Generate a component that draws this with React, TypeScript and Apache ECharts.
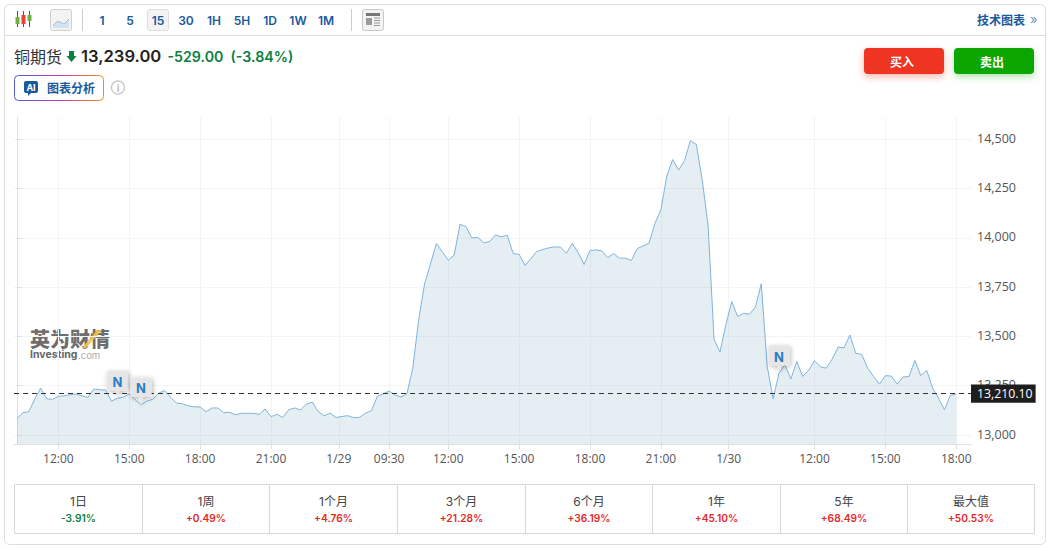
import React, { useEffect, useRef } from "react";
import * as echarts from "echarts";

const prices = [
  13084, 13113, 13118, 13182, 13238, 13184, 13181, 13196, 13199, 13204, 13208, 13199, 13191, 13233, 13230, 13228,
  13172, 13187, 13192, 13209, 13179, 13154, 13172, 13182, 13213, 13225, 13192, 13162, 13159, 13147, 13143, 13142,
  13118, 13137, 13137, 13113, 13115, 13103, 13110, 13110, 13110, 13105, 13132, 13093, 13105, 13089, 13128, 13137,
  13127, 13157, 13167, 13118, 13098, 13111, 13089, 13094, 13098,
  13088, 13090, 13111, 13123, 13196, 13209, 13223, 13203, 13193, 13208, 13339, 13584, 13767, 13868, 13971, 13929,
  13887, 13912, 14069, 14057, 14000, 14003, 13975, 13981, 14015, 14005, 14013, 13920, 13917, 13860, 13895, 13931,
  13941, 13949, 13954, 13953, 13922, 13971, 13926, 13865, 13936, 13939, 13934, 13900, 13920, 13897, 13897, 13885,
  13946, 13959, 13973, 14074, 14142, 14314, 14397, 14344, 14392, 14493, 14474, 14294, 14061,
  13486, 13421, 13559, 13677, 13601, 13617, 13613, 13649, 13767, 13348, 13184, 13314, 13356, 13284, 13373, 13297,
  13328, 13377, 13346, 13339, 13385, 13446, 13442, 13507, 13414, 13409, 13339, 13297, 13258, 13301, 13299, 13258,
  13294, 13297, 13378, 13301, 13328, 13238, 13187, 13128, 13201, 13208,
];
const xTickIndex = [7, 19, 31, 43, 54.47, 63, 73, 85, 97, 109, 120.47, 135, 147, 159];
const xTickLabels = ["12:00", "15:00", "18:00", "21:00", "1/29", "09:30", "12:00", "15:00", "18:00", "21:00", "1/30", "12:00", "15:00", "18:00"];
const yTicks = [13000, 13250, 13500, 13750, 14000, 14250, 14500];
const newsIndex = [17, 21, 129];
const lastPrice = 13210.1;
const lastPriceLabel = "13,210.10";
const intervals = ["1", "5", "15", "30", "1H", "5H", "1D", "1W", "1M"];
const periodNames = ["1日", "1周", "1个月", "3个月", "6个月", "1年", "5年", "最大值"];
const periodChanges = ["-3.91%", "+0.49%", "+4.76%", "+21.28%", "+36.19%", "+45.10%", "+68.49%", "+50.53%"];

const FONT = "Inter, 'Noto Sans CJK SC', sans-serif";
const AXIS_FONT = "'Open Sans', 'Noto Sans CJK SC', sans-serif";
const BLUE = "#1a5a9c";
const GREEN = "#0a7f3f";
const RED = "#e5281e";

const txt = (text: string, x: number, y: number, size: number, fill: string, weight: any = "normal", align = "left", family = FONT) => ({
  type: "text", x, y, silent: true,
  style: { text, fontSize: size, fontWeight: weight, fontFamily: family, fill, align, verticalAlign: "middle" },
});
const box = (x: number, y: number, width: number, height: number, style: any, r = 0) => ({
  type: "rect", silent: true, shape: { x, y, width, height, r }, style,
});
const seg = (x1: number, y1: number, x2: number, y2: number, stroke: string, lineWidth = 1) => ({
  type: "line", silent: true, shape: { x1, y1, x2, y2 }, style: { stroke, lineWidth },
});

function chrome(): any[] {
  const els: any[] = [];
  // card
  els.push(box(4.5, 4.5, 1041, 540, { fill: "none", stroke: "#dddddd", lineWidth: 1 }, 5));
  els.push(seg(5, 35.5, 1045, 35.5, "#dddddd"));
  // candlestick icon
  els.push(seg(17.5, 11, 17.5, 27, "#555"), seg(23.5, 11, 23.5, 27, "#555"), seg(29.5, 11, 29.5, 27, "#555"));
  els.push(box(15.5, 17, 4, 7, { fill: "#6cb33f" }), box(21.5, 15, 4, 9, { fill: "#e8403a" }), box(27.5, 15, 4, 6, { fill: "#6cb33f" }));
  // area icon
  els.push(box(50.5, 9.5, 21, 21, { fill: "#f3f3f3", stroke: "#d0d0d0" }, 2));
  els.push({ type: "polygon", silent: true, shape: { points: [[53, 26], [57, 21.5], [60, 22], [64, 24], [69, 19], [69, 28], [53, 28]] }, style: { fill: "#d5e3f0" } });
  els.push({ type: "polyline", silent: true, shape: { points: [[53, 26], [57, 21.5], [60, 22], [64, 24], [69, 19]] }, style: { stroke: "#9dbbd8", fill: "none" } });
  els.push(seg(82.5, 9, 82.5, 31, "#cccccc"));
  // interval buttons
  els.push(box(147.5, 9.5, 21, 21, { fill: "#f3f3f3", stroke: "#dddddd" }, 2));
  intervals.forEach((t, i) => els.push(txt(t, 102 + i * 28, 20.5, 12, BLUE, 600, "center")));
  els.push(seg(351.5, 9, 351.5, 31, "#cccccc"));
  // layout icon
  els.push(box(362.5, 9.5, 21, 21, { fill: "#f3f3f3", stroke: "#c8c8c8" }, 2));
  els.push(box(366, 13, 14, 3, { fill: "#777" }), box(366, 18, 6, 7, { fill: "#9a9a9a" }));
  [18, 20.5, 23, 25.5].forEach((y) => els.push(seg(374, y, 380, y, "#999")));
  // right link
  els.push(txt("技术图表", 977, 20, 12, BLUE, 700));
  els.push(txt("»", 1030, 19, 13, "#6f93bd", "normal"));
  // quote line
  els.push(txt("铜期货", 14, 56, 16, "#333333", "normal", "left", "'Noto Sans CJK SC', sans-serif"));
  els.push({ type: "polygon", silent: true, shape: { points: [[69, 51], [74, 51], [74, 56], [76.5, 56], [71.5, 62], [66.5, 56], [69, 56]] }, style: { fill: GREEN } });
  els.push(txt("13,239.00", 81, 56, 16.6, "#222222", 600));
  els.push(txt("-529.00", 167.5, 56.5, 14.2, GREEN, 600));
  els.push(txt("(-3.84%)", 230.5, 56.5, 14.2, GREEN, 600));
  // AI button
  els.push(box(14.5, 75.5, 89, 25, {
    fill: "#fff", lineWidth: 1,
    stroke: new echarts.graphic.LinearGradient(0, 0, 1, 0, [
      { offset: 0, color: "#4f5bd5" }, { offset: 0.5, color: "#c13ab0" }, { offset: 1, color: "#f98a1c" },
    ]),
  }, 4));
  els.push(box(24, 81, 14, 12, { fill: "#1a5a9c" }, 2));
  els.push({ type: "polygon", silent: true, shape: { points: [[28, 92], [32, 92], [28, 96]] }, style: { fill: "#1a5a9c" } });
  els.push(txt("AI", 31, 87, 9, "#ffffff", 700, "center"));
  els.push(txt("图表分析", 47, 87.5, 12, BLUE, 700, "left", "'Noto Sans CJK SC', sans-serif"));
  els.push({ type: "circle", silent: true, shape: { cx: 118, cy: 87.5, r: 6.5 }, style: { fill: "#fff", stroke: "#c4c4c4", lineWidth: 1.2 } });
  els.push(txt("i", 118, 87.5, 10, "#b5b5b5", 600, "center"));
  // buy / sell
  els.push(box(864, 48, 80, 26, { fill: "#ee3524", shadowBlur: 7, shadowColor: "rgba(238,53,36,0.35)", shadowOffsetY: 3 }, 4));
  els.push(box(954, 48, 80, 26, { fill: "#0ea604", shadowBlur: 7, shadowColor: "rgba(14,166,4,0.3)", shadowOffsetY: 3 }, 4));
  els.push(txt("买入", 902, 61, 12, "#ffffff", 700, "center", "'Noto Sans CJK SC', sans-serif"));
  els.push(txt("卖出", 992, 61, 12, "#ffffff", 700, "center", "'Noto Sans CJK SC', sans-serif"));
  // watermark
  els.push(txt("英为财情", 30, 338, 20, "#6e6e6e", 900, "left", "'Noto Sans CJK SC', sans-serif"));
  els.push({ type: "polygon", silent: true, shape: { points: [[82, 348], [86, 348], [102, 330], [97, 330]] }, style: { fill: "#f7c04a", opacity: 0.9 } });
  els.push(txt("Investing", 30, 354.5, 10.5, "#666666", 700, "left", "Inter, sans-serif"));
  els.push(txt(".com", 78, 355, 9.5, "#aaaaaa", "normal", "left", "Inter, sans-serif"));
  // period table
  const colX = [14.5, 142.5, 269.5, 397.5, 525.5, 652.5, 780.5, 907.5, 1034.5];
  els.push(box(14.5, 484.5, 1020, 49, { fill: "none", stroke: "#d8d8d8" }));
  colX.slice(1, -1).forEach((x) => els.push(seg(x, 484.5, x, 533.5, "#d8d8d8")));
  periodNames.forEach((name, i) => {
    const cx = (colX[i] + colX[i + 1]) / 2;
    els.push(txt(name, cx, 501, 12, "#444444", "normal", "center", "Inter, 'Noto Sans CJK SC', sans-serif"));
    els.push(txt(periodChanges[i], cx, 517.5, 10.2, periodChanges[i].startsWith("-") ? GREEN : RED, 600, "center"));
  });
  return els;
}

export default function App() {
  const ref = useRef<HTMLDivElement>(null);
  useEffect(() => {
    document.body.style.margin = "0";
    document.body.style.background = "#fff";
    const chart = echarts.init(ref.current!, undefined, { renderer: "svg" });
    const pin = "path://M0,0 L22,0 L22,20 L13,20 L11,28 L9,20 L0,20 Z";
    chart.setOption({
      animation: false,
      backgroundColor: "#ffffff",
      graphic: { elements: chrome() },
      grid: { left: 14, right: 80, top: 117, bottom: 104, containLabel: false },
      xAxis: {
        type: "value",
        min: -0.508,
        max: 161.5,
        axisLine: { show: true, onZero: false, lineStyle: { color: "#e0e0e0" } },
        axisTick: { show: true, length: 5, customValues: xTickIndex, lineStyle: { color: "#e0e0e0" } },
        axisLabel: {
          show: true,
          customValues: xTickIndex,
          margin: 8,
          fontSize: 12,
          color: "#555555",
          fontFamily: AXIS_FONT,
          formatter: (v: number) => xTickLabels[xTickIndex.indexOf(v)] ?? "",
        },
        splitLine: { show: true, lineStyle: { color: "#f3f4f5" } },
      },
      yAxis: {
        type: "value",
        position: "right",
        min: 12954.4,
        max: 14613,
        axisLine: { show: true, lineStyle: { color: "#e0e0e0" } },
        axisTick: { show: true, length: 5, customValues: yTicks, lineStyle: { color: "#e0e0e0" } },
        axisLabel: {
          show: true,
          customValues: yTicks,
          margin: 6,
          formatter: (v: number) => `{a|${v.toLocaleString("en-US")}}`,
          rich: {
            a: { fontSize: 12.5, color: "#555555", fontFamily: AXIS_FONT, padding: [0, 0, 2, 0] },
          },
        },
        splitLine: { show: true, lineStyle: { color: "#f3f4f5" } },
      },
      series: [
        {
          type: "line",
          data: prices.map((p, i) => [i, p]),
          symbol: "none",
          smooth: false,
          lineStyle: { color: "#7fb3dc", width: 1 },
          areaStyle: { color: "#7daac3", opacity: 0.2 },
          markLine: {
            silent: true,
            symbol: "none",
            lineStyle: { color: "#333333", type: [5, 4], width: 1 },
            data: [{ yAxis: lastPrice }],
            label: {
              show: true,
              position: "end",
              distance: 0,
              formatter: () => lastPriceLabel,
              color: "#ffffff",
              backgroundColor: "#1e1e1e",
              padding: [3, 3, 3, 6],
              fontSize: 12.3,
              fontFamily: AXIS_FONT,
            },
          },
          markPoint: {
            silent: true,
            symbol: pin,
            symbolSize: [21, 27],
            symbolOffset: [0, -13.5],
            itemStyle: { color: "#e6e6e6", shadowBlur: 5, shadowColor: "rgba(0,0,0,0.3)", shadowOffsetX: 1, shadowOffsetY: 1 },
            label: {
              show: true,
              formatter: "N",
              color: "#2b7cc4",
              fontSize: 13,
              fontWeight: 700,
              fontFamily: "Inter, sans-serif",
              position: "inside",
              offset: [0, -3],
            },
            data: newsIndex.map((i) => ({ coord: [i, prices[i]] })),
          },
        },
      ],
    });
    return () => chart.dispose();
  }, []);
  return <div ref={ref} style={{ width: 1051, height: 548 }} />;
}
